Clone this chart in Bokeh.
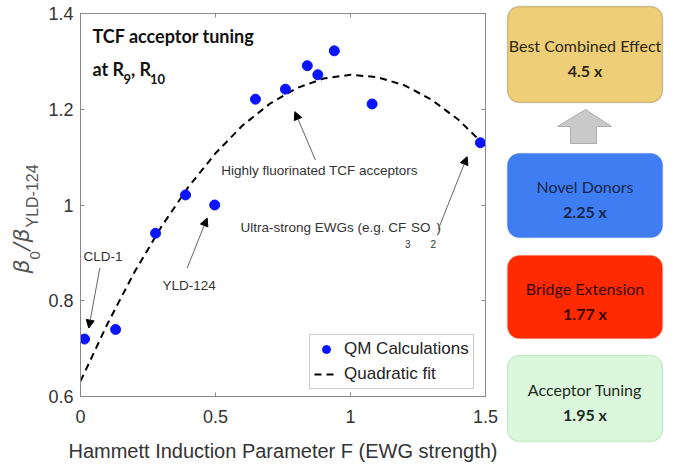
from bokeh.plotting import figure
from bokeh.models import (Range1d, LinearAxis, FixedTicker, Label, Arrow, NormalHead,
                          BoxAnnotation, Legend, LegendItem, CustomJSTickFormatter)
from bokeh.layouts import row
from bokeh.embed import file_html
from bokeh.resources import INLINE

# ---------------- data ----------------
F_values = [0.015, 0.13, 0.278, 0.389, 0.497, 0.648, 0.759, 0.84, 0.879, 0.94, 1.08, 1.481]
beta_ratio = [0.72, 0.74, 0.941, 1.021, 1.0, 1.221, 1.242, 1.291, 1.272, 1.322, 1.211, 1.13]

fit_F = [0.0, 0.1, 0.2, 0.3, 0.4, 0.5, 0.6, 0.7, 0.8, 0.9, 1.0, 1.1, 1.2, 1.3, 1.4, 1.5]
fit_beta = [0.632, 0.752, 0.860, 0.955, 1.038, 1.108, 1.166, 1.211, 1.244, 1.264,
            1.272, 1.267, 1.250, 1.220, 1.178, 1.123]

x_ticks = [0, 0.5, 1, 1.5]
x_tick_labels = ["0", "0.5", "1", "1.5"]
y_ticks = [0.6, 0.8, 1.0, 1.2, 1.4]
y_tick_labels = ["0.6", "0.8", "1", "1.2", "1.4"]

box_titles = ["Best Combined Effect", "Novel Donors", "Bridge Extension", "Acceptor Tuning"]
box_factors = ["4.5 x", "2.25 x", "1.77 x", "1.95 x"]

# ---------------- styles ----------------
AX = "#8a8a8a"
TXT = "#333333"
SANS = "Liberation Sans"
ANN = "13.5px"

def fmt(ticks, labels):
    return CustomJSTickFormatter(args=dict(tv=ticks, tl=labels), code="""
        const i = tv.findIndex(t => Math.abs(t - tick) < 1e-9);
        return i >= 0 ? tl[i] : '';""")

blank = CustomJSTickFormatter(code="return '';")

def no_align(fig):
    try:
        fig.frame_align = False
    except Exception:
        pass

# ---------------- y-axis label strip ----------------
s = figure(width=45, height=465, x_range=Range1d(0, 45), y_range=Range1d(465, 0),
           x_axis_type=None, y_axis_type=None, min_border=0, outline_line_color=None,
           output_backend="svg", toolbar_location=None)
no_align(s)
s.background_fill_color = "white"
s.border_fill_color = "white"
YL = "#555"
for x, y, t, size, font, style in ((33, 273, "β", "22px", "DejaVu Sans", "italic"),
                                   (39, 259, "0", "15px", SANS, "normal"),
                                   (33, 250, "/", "22px", "DejaVu Sans", "italic"),
                                   (33, 242, "β", "22px", "DejaVu Sans", "italic"),
                                   (40, 227, "YLD-124", "16px", SANS, "normal")):
    s.add_layout(Label(x=x, y=y, text=t, text_font=font, text_font_size=size,
                       text_font_style=style, text_color=YL, angle=90, angle_units="deg"))

# ---------------- main plot ----------------
p = figure(frame_width=405, frame_height=383,
           x_range=Range1d(0, 1.5), y_range=Range1d(0.6, 1.4),
           min_border_left=35, min_border_right=20, min_border_top=13, min_border_bottom=69,
           output_backend="svg", toolbar_location=None)
no_align(p)
p.xgrid.visible = False
p.ygrid.visible = False
p.outline_line_color = AX
p.background_fill_color = "white"
p.border_fill_color = "white"

for ax, t, l in ((p.xaxis[0], x_ticks, x_tick_labels), (p.yaxis[0], y_ticks, y_tick_labels)):
    ax.ticker = FixedTicker(ticks=t)
    ax.formatter = fmt(t, l)
    ax.major_tick_in = 4
    ax.major_tick_out = 0
    ax.minor_tick_line_color = None
    ax.axis_line_color = AX
    ax.major_tick_line_color = AX
    ax.major_label_text_font = SANS
    ax.major_label_text_font_size = "18px"
    ax.major_label_text_color = TXT

p.xaxis.major_label_standoff = 13
p.yaxis.major_label_standoff = 7
p.xaxis.axis_label = "Hammett Induction Parameter F (EWG strength)"
p.xaxis.axis_label_text_font = SANS
p.xaxis.axis_label_text_font_size = "20px"
p.xaxis.axis_label_text_font_style = "normal"
p.xaxis.axis_label_text_color = TXT
p.xaxis.axis_label_standoff = 14

for loc, t in (("above", x_ticks), ("right", y_ticks)):
    a = LinearAxis(ticker=FixedTicker(ticks=t), formatter=blank,
                   major_tick_in=4, major_tick_out=0, minor_tick_line_color=None,
                   axis_line_color=AX, major_tick_line_color=AX,
                   major_label_standoff=0, major_label_text_font_size="1px")
    p.add_layout(a, loc)

r_pts = p.scatter(F_values, beta_ratio, size=10, color="#0a14ff")
r_fit = p.line(fit_F, fit_beta, line_dash="7 5", line_width=2, color="black")
r_fit.level = "underlay"

legend = Legend(items=[LegendItem(label="QM Calculations", renderers=[r_pts]),
                       LegendItem(label="Quadratic fit", renderers=[r_fit])],
                location=(229, 7), margin=0, padding=4, spacing=5,
                glyph_width=24, glyph_height=20, label_height=20, label_standoff=6,
                label_text_font=SANS, label_text_font_size="17px", label_text_color="#222",
                border_line_color="#9a9a9a", background_fill_color="white",
                background_fill_alpha=1)
p.add_layout(legend)

def lab(x, y, text, size, font=SANS, style="normal", color=TXT):
    p.add_layout(Label(x=x, y=y, text=text, text_font=font, text_font_size=size,
                       text_font_style=style, text_color=color))

# title
TC = "#111"
lab(0.0444, 1.3307, "TCF acceptor tuning", "18px", font="Lato", style="bold", color=TC)
lab(0.0444, 1.261, "at R", "18px", font="Lato", style="bold", color=TC)
lab(0.1593, 1.253, "9", "13px", font="Lato", style="bold", color=TC)
lab(0.187, 1.261, ", R", "18px", font="Lato", style="bold", color=TC)
lab(0.2574, 1.253, "10", "13px", font="Lato", style="bold", color=TC)

# annotations
lab(0.011, 0.8778, "CLD-1", ANN)
lab(0.3037, 0.8168, "YLD-124", ANN)
lab(0.521, 1.057, "Highly fluorinated TCF acceptors", ANN)
lab(0.5926, 0.9373, "Ultra-strong EWGs (e.g. CF", ANN)
lab(1.2019, 0.910, "3", "10px")
lab(1.2241, 0.9373, "SO", ANN)
lab(1.2963, 0.910, "2", "10px")
lab(1.3185, 0.9373, ")", ANN)

for xs, ys, xe, ye in ((0.0715, 0.8684, 0.0307, 0.743),
                       (0.395, 0.868, 0.469, 0.9728),
                       (0.870, 1.094, 0.794, 1.195),
                       (1.325, 0.949, 1.432, 1.101)):
    p.add_layout(Arrow(x_start=xs, y_start=ys, x_end=xe, y_end=ye,
                       line_color="#666", line_width=1,
                       end=NormalHead(size=8, fill_color="black", line_color="black", line_width=1)))

# ---------------- right panel ----------------
q = figure(width=168, height=465, x_range=Range1d(505, 673), y_range=Range1d(465, 0),
           x_axis_type=None, y_axis_type=None, min_border=0, outline_line_color=None,
           output_backend="svg", toolbar_location=None)
no_align(q)
q.background_fill_color = "white"
q.border_fill_color = "white"

boxes = [(6, 102, "#EECF78", "#6b5a35", "#2e2615"),
         (153, 237, "#3f7ef2", "#2c5fd0", "#16264a"),
         (255, 338, "#ff2a00", "#f05a3a", "#3a0800"),
         (355, 441, "#dcf8dc", "#74c474", "#1e2a1e")]
for (top, bottom, fill, line, tc), title, fac in zip(boxes, box_titles, box_factors):
    q.add_layout(BoxAnnotation(left=507, right=662, top=top, bottom=bottom,
                               fill_color=fill, fill_alpha=1, line_color=line,
                               line_width=1.5, border_radius=12))
    mid = (top + bottom) / 2
    q.add_layout(Label(x=584.5, y=mid - 9, text=title, text_align="center",
                       text_baseline="middle", text_font="Lato", text_font_size="16px",
                       text_color=tc))
    q.add_layout(Label(x=584.5, y=mid + 16, text=fac, text_align="center",
                       text_baseline="middle", text_font="Lato", text_font_size="16px",
                       text_font_style="bold", text_color=tc))

q.patch([557, 585, 611, 596, 596, 570, 570], [126, 109, 126, 126, 143, 143, 126],
        fill_color="#c9c9c9", line_color="#adadad", line_width=1)

layout = row(s, p, q)
open("out.html", "w").write(file_html(layout, INLINE))
